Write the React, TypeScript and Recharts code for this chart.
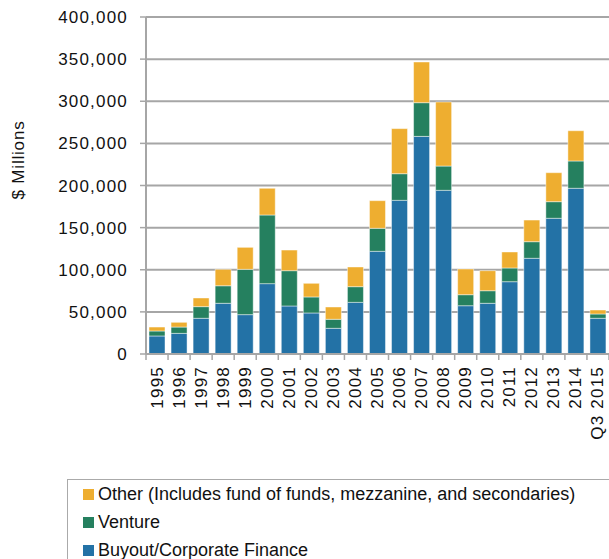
import React from "react";
import { BarChart, Bar, XAxis, YAxis, CartesianGrid, Legend } from "recharts";

const years = ["1995","1996","1997","1998","1999","2000","2001","2002","2003","2004","2005","2006","2007","2008","2009","2010","2011","2012","2013","2014","Q3 2015"];
const buyout = [21400,24500,42400,60200,46700,83500,57000,48700,30500,61300,121900,182400,258300,194300,57300,60200,85800,113600,161100,196700,42400];
const venture = [5900,7500,13800,20800,53800,81500,41900,19000,10700,18600,27300,31600,40000,28800,13100,14900,16300,19700,19700,32400,5100];
const other = [4700,5600,10300,19500,26100,31700,24500,16200,14600,23400,32800,53500,48300,76000,30500,23800,19000,25700,34400,35900,4700];
const yTicks = [0,50000,100000,150000,200000,250000,300000,350000,400000];

const seriesNames = {
  other: "Other (Includes fund of funds, mezzanine, and secondaries)",
  venture: "Venture",
  buyout: "Buyout/Corporate Finance",
};
const colors = { buyout: "#2372a6", venture: "#25805f", other: "#eeae30" };

const data = years.map((y, i) => ({ year: y, buyout: buyout[i], venture: venture[i], other: other[i] }));

const FONT = '"Liberation Sans", Arial, Helvetica, sans-serif';
const GRID = "#a6a6a6";

const XTick = (props: any) => {
  const { x, y, payload, index } = props;
  const half = payload && payload.offset ? payload.offset : 11;
  const last = index === years.length - 1;
  return (
    <g>
      <line x1={x - half} x2={x - half} y1={y} y2={y + 6} stroke={GRID} strokeWidth={1.5} />
      {last && <line x1={x + half} x2={x + half} y1={y} y2={y + 6} stroke={GRID} strokeWidth={1.5} />}
      <text
        x={x}
        y={y + 12}
        transform={`rotate(-90 ${x} ${y + 12})`}
        textAnchor="end"
        dominantBaseline="central"
        fontFamily={FONT}
        fontSize={17}
        letterSpacing={1.2}
        fill="#111"
      >
        {payload.value}
      </text>
    </g>
  );
};

const LegendContent = () => {
  const order: Array<keyof typeof seriesNames> = ["other", "venture", "buyout"];
  return (
    <div style={{ height: 0, position: "relative" }}>
      <div
        style={{
          position: "absolute",
          left: 67,
          top: 479,
          width: 560,
          height: 100,
          border: "1.5px solid #aaa",
          boxSizing: "border-box",
          fontFamily: FONT,
          fontSize: 18,
          color: "#111",
        }}
      >
        {order.map((k) => (
          <div key={k} style={{ height: 28, display: "flex", alignItems: "center", paddingLeft: 15, whiteSpace: "nowrap" }}>
            <span style={{ display: "inline-block", width: 11, height: 11, background: colors[k], marginRight: 4 }} />
            <span>{seriesNames[k]}</span>
          </div>
        ))}
      </div>
    </div>
  );
};

export default function App() {
  return (
    <div style={{ position: "absolute", left: 0, top: 0, width: 609, height: 559, overflow: "hidden", background: "#fff" }}>
      <BarChart
        width={609}
        height={559}
        data={data}
        margin={{ top: 17, right: 0, left: 0, bottom: 105 }}
        barSize={16}
      >
        <CartesianGrid vertical={false} stroke={GRID} strokeWidth={2} />
        <XAxis
          dataKey="year"
          height={100}
          interval={0}
          tickSize={0}
          tickMargin={0}
          tickLine={false}
          axisLine={{ stroke: GRID, strokeWidth: 2 }}
          tick={<XTick />}
        />
        <YAxis
          width={146}
          domain={[0, 400000]}
          ticks={yTicks}
          interval={0}
          tickSize={6}
          tickMargin={12}
          tickFormatter={(v: number) => v.toLocaleString("en-US")}
          axisLine={{ stroke: GRID, strokeWidth: 2 }}
          tickLine={{ stroke: GRID, strokeWidth: 1.5 }}
          tick={{ fontFamily: FONT, fontSize: 17, fill: "#111", letterSpacing: 1.2 } as any}
          label={{
            content: () => (
              <text
                x={18}
                y={160}
                transform="rotate(-90 18 160)"
                textAnchor="middle"
                dominantBaseline="central"
                fontFamily={FONT}
                fontSize={17}
                letterSpacing={0.8}
                fill="#111"
              >
                $ Millions
              </text>
            ),
          }}
        />
        <Legend content={<LegendContent />} wrapperStyle={{ position: "absolute", left: 0, top: 0, bottom: "auto", width: 609, height: 0, margin: 0 }} />
        <Bar dataKey="buyout" stackId="a" fill={colors.buyout} stroke="#ffffff" strokeOpacity={0.45} strokeWidth={1} isAnimationActive={false} name={seriesNames.buyout} />
        <Bar dataKey="venture" stackId="a" fill={colors.venture} stroke="#ffffff" strokeOpacity={0.45} strokeWidth={1} isAnimationActive={false} name={seriesNames.venture} />
        <Bar dataKey="other" stackId="a" fill={colors.other} stroke="#ffffff" strokeOpacity={0.45} strokeWidth={1} isAnimationActive={false} name={seriesNames.other} />
      </BarChart>
    </div>
  );
}
